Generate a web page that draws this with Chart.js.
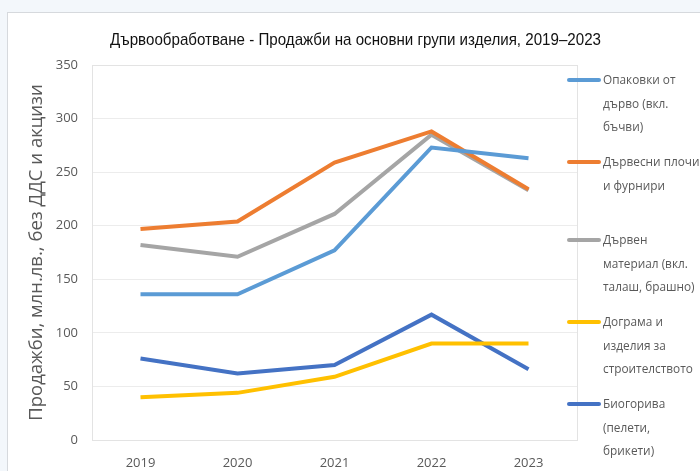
<!DOCTYPE html>
<html>
<head>
<meta charset="utf-8">
<script src="https://cdn.jsdelivr.net/npm/chart.js@4.4.1/dist/chart.umd.min.js"></script>
<style>
  html, body { margin: 0; padding: 0; }
  body { width: 700px; height: 471px; background: #f3f7fb; position: relative; overflow: hidden; }
  .card { position: absolute; left: 7px; top: 12px; width: 720px; height: 480px; background: #fff; border: 1px solid #d6d9dd; }
  .wrap { position: absolute; left: 0; top: 0; width: 700px; height: 471px; }
  .title { position: absolute; left: 0; top: 29px; white-space: nowrap; font-family: "Liberation Sans", Arial, sans-serif; font-size: 17px; line-height: 22px; color: #111; transform-origin: 0 50%; }
  .legend { position: absolute; left: 567px; top: 0; font-family: "Open Sans", sans-serif; font-size: 13px; color: #595959; }
  .legend .item { position: absolute; left: 0; white-space: nowrap; }
  .legend .swatch { position: absolute; left: 0; width: 34px; height: 4px; border-radius: 2px; }
  .legend .text { position: absolute; left: 36px; line-height: 23.5px; transform: scaleX(0.91); transform-origin: 0 0; }
</style>
</head>
<body>
<div class="card"></div>
<div class="wrap"><canvas id="chart" width="700" height="471"></canvas></div>
<div class="title" id="title"></div>
<div class="legend" id="legend"></div>
<script>
const years = ["2019", "2020", "2021", "2022", "2023"];

const packaging = [136, 136, 177, 273, 263];
const panels = [197, 204, 259, 288, 234];
const lumber = [182, 171, 211, 285, 233];
const joinery = [40, 44, 59, 90, 90];
const biofuels = [76, 62, 70, 117, 66];

const seriesNames = [
  ["Опаковки от", "дърво (вкл.", "бъчви)"],
  ["Дървесни плочи", "и фурнири"],
  ["Дървен", "материал (вкл.", "талаш, брашно)"],
  ["Дограма и", "изделия за", "строителството"],
  ["Биогорива", "(пелети,", "брикети)"]
];
const seriesColors = ["#5b9bd5", "#ed7d31", "#a5a5a5", "#ffc000", "#4472c4"];
const yTicks = [0, 50, 100, 150, 200, 250, 300, 350];

const title = "Дървообработване - Продажби на основни групи изделия, 2019–2023";
const yTitle = "Продажби, млн.лв., без ДДС и акцизи";

const allValues = [packaging, panels, lumber, joinery, biofuels];

// frame around the plot area, like the excel plot border
const plotFrame = {
  id: "plotFrame",
  beforeDatasetsDraw(chart) {
    const { ctx, chartArea } = chart;
    ctx.save();
    ctx.strokeStyle = "#e3e3e3";
    ctx.lineWidth = 1;
    ctx.strokeRect(chartArea.left + 0.5, chartArea.top + 0.5, chartArea.width, chartArea.height);
    ctx.restore();
  }
};

const chart = new Chart(document.getElementById("chart"), {
  type: "line",
  data: {
    labels: years,
    datasets: allValues.map((values, i) => ({
      label: seriesNames[i].join(" "),
      data: values,
      borderColor: seriesColors[i],
      backgroundColor: seriesColors[i],
      borderWidth: 4,
      pointRadius: 0,
      tension: 0
    }))
  },
  options: {
    responsive: false,
    animation: false,
    layout: { padding: { left: 0, right: 123, top: 65, bottom: 0 } },
    plugins: {
      legend: { display: false },
      tooltip: { enabled: false },
      title: { display: false }
    },
    scales: {
      x: {
        offset: true,
        grid: { display: false, drawTicks: false },
        border: { display: true, color: "#d9d9d9", width: 1 },
        ticks: { color: "#595959", padding: 15, font: { family: "'Open Sans', sans-serif", size: 13 } },
        afterFit(scale) { scale.height = 31; }
      },
      y: {
        min: 0,
        max: 350,
        afterBuildTicks(scale) { scale.ticks = yTicks.map(v => ({ value: v })); },
        grid: { color: "#ececec", drawTicks: false },
        border: { display: false },
        ticks: { color: "#595959", padding: 14, font: { family: "'Open Sans', sans-serif", size: 13 } },
        title: {
          display: true,
          text: yTitle,
          color: "#595959",
          font: { family: "'Open Sans', sans-serif", size: 18.5 },
          padding: { top: 26, bottom: 0 }
        },
        afterFit(scale) { scale.width = 92; }
      }
    }
  },
  plugins: [plotFrame]
});

// chart title as html, squeezed to the narrow width of the original
const titleEl = document.getElementById("title");
titleEl.textContent = title;
const titleWidth = titleEl.getBoundingClientRect().width;
const targetWidth = 491;
titleEl.style.left = (355 - targetWidth / 2) + "px";
titleEl.style.transform = `scaleX(${targetWidth / titleWidth})`;

// html legend with wrapped lines
const legend = document.getElementById("legend");
const legendTops = [80, 162, 240, 322, 404];
seriesNames.forEach((lines, i) => {
  const item = document.createElement("div");
  item.className = "item";
  item.style.top = legendTops[i] + "px";
  item.innerHTML = `
    <div class="swatch" style="background:${seriesColors[i]}; top:-2px"></div>
    <div class="text" style="top:-12px">${lines.join("<br>")}</div>
  `;
  legend.appendChild(item);
});
</script>
</body>
</html>
